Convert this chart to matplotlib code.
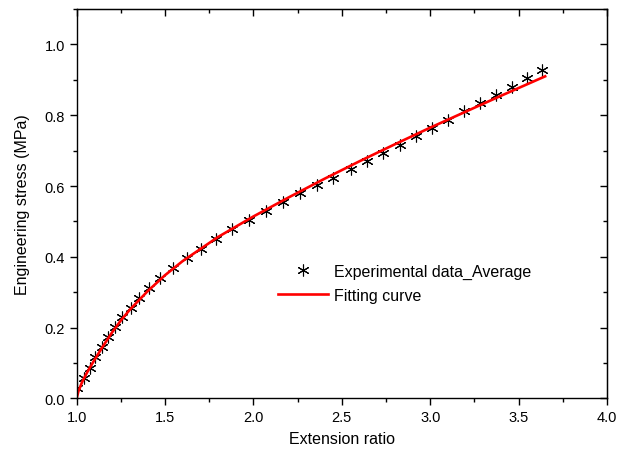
import matplotlib
matplotlib.use("Agg")
import matplotlib.pyplot as plt
from matplotlib.ticker import MultipleLocator, FormatStrFormatter

plt.rcParams['font.family'] = ['Liberation Sans', 'DejaVu Sans']

# experimental points (extension ratio, stress MPa)
exp_x = [1.003, 1.041, 1.075, 1.105, 1.141, 1.177, 1.217, 1.258, 1.306, 1.354,
         1.411, 1.471, 1.547, 1.623, 1.702, 1.788, 1.879, 1.977, 2.071, 2.169,
         2.264, 2.358, 2.452, 2.551, 2.641, 2.735, 2.830, 2.920, 3.011, 3.101,
         3.192, 3.282, 3.373, 3.462, 3.550, 3.633]
exp_y = [0.028, 0.056, 0.087, 0.117, 0.145, 0.174, 0.202, 0.229, 0.256, 0.283,
         0.311, 0.339, 0.368, 0.396, 0.422, 0.450, 0.478, 0.504, 0.528, 0.554,
         0.580, 0.603, 0.624, 0.648, 0.671, 0.693, 0.717, 0.740, 0.763, 0.787,
         0.811, 0.834, 0.858, 0.881, 0.905, 0.928]

# fitting curve
fit_x = [1.0, 1.01, 1.03, 1.06, 1.1, 1.15, 1.2, 1.25, 1.3, 1.4, 1.5, 1.6,
         1.8, 2.0, 2.2, 2.4, 2.6, 2.8, 3.0, 3.2, 3.4, 3.65]
fit_y = [0.0, 0.02, 0.045, 0.074, 0.108, 0.148, 0.186, 0.22, 0.25, 0.302,
         0.348, 0.388, 0.456, 0.514, 0.568, 0.62, 0.67, 0.718, 0.765, 0.81,
         0.855, 0.91]

fig = plt.figure(figsize=(6.3, 4.6), dpi=100)
ax = fig.add_axes([0.1217, 0.132, 0.8418, 0.846])

ax.plot(exp_x, exp_y, linestyle='none', marker=(6, 2, 0), markersize=8.5,
        markeredgewidth=0.8, color='black', label='Experimental data_Average')
ax.plot(fit_x, fit_y, color='#ff0000', linewidth=1.9, label='Fitting curve')

ax.set_xlim(1.0, 4.0)
ax.set_ylim(0.0, 1.1)
ax.xaxis.set_major_locator(MultipleLocator(0.5))
ax.xaxis.set_minor_locator(MultipleLocator(0.25))
ax.yaxis.set_major_locator(MultipleLocator(0.2))
ax.yaxis.set_minor_locator(MultipleLocator(0.1))
ax.xaxis.set_major_formatter(FormatStrFormatter('%.1f'))
ax.yaxis.set_major_formatter(FormatStrFormatter('%.1f'))
ax.tick_params(which='major', direction='out', length=5, width=1, labelsize=10.5)
ax.tick_params(which='minor', direction='out', length=3, width=1)

# top/right ticks point inward
top = ax.secondary_xaxis('top')
top.xaxis.set_major_locator(MultipleLocator(0.5))
top.xaxis.set_minor_locator(MultipleLocator(0.25))
top.tick_params(which='major', direction='in', length=5, width=1, labeltop=False)
top.tick_params(which='minor', direction='in', length=3, width=1)
right = ax.secondary_yaxis('right')
right.yaxis.set_major_locator(MultipleLocator(0.2))
right.yaxis.set_minor_locator(MultipleLocator(0.1))
right.tick_params(which='major', direction='in', length=5, width=1, labelright=False)
right.tick_params(which='minor', direction='in', length=3, width=1)

for s in ax.spines.values():
    s.set_linewidth(1.0)

ax.set_xlabel('Extension ratio', fontsize=11.5, labelpad=5)
ax.set_ylabel('Engineering stress (MPa)', fontsize=11.5, labelpad=10)

ax.legend(loc='upper left', bbox_to_anchor=(0.38, 0.345), frameon=False,
          fontsize=11.5, handlelength=3.1, handletextpad=0.4,
          labelspacing=0.55, borderpad=0, borderaxespad=0)

fig.savefig('out.png', dpi=100)
